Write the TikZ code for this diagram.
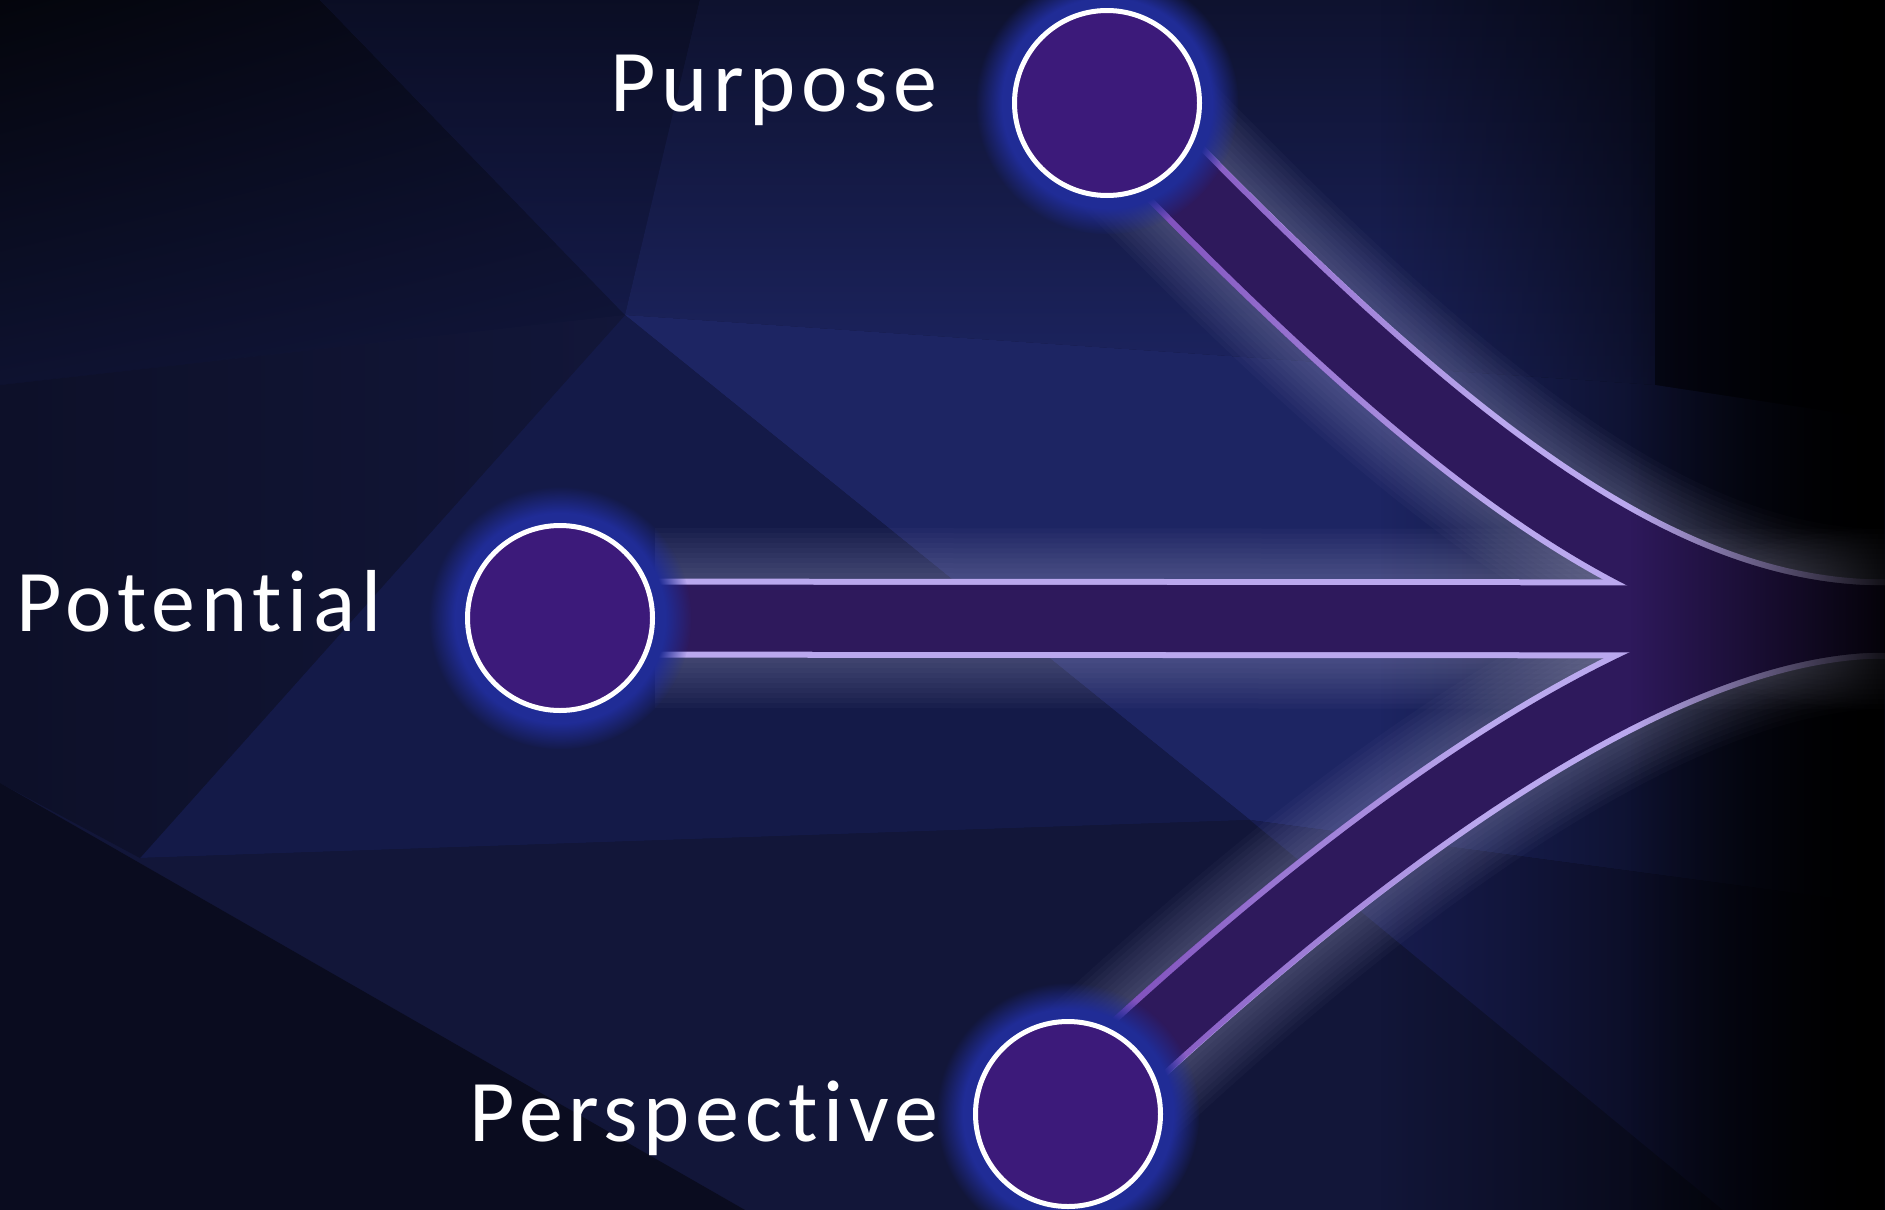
\documentclass[tikz,border=0pt]{standalone}
\usepackage{fontspec}
\setmainfont{Carlito}
\newfontfamily\lblfont{Carlito}[LetterSpace=6.5, Ligatures={NoCommon, NoRare}]
\usetikzlibrary{fadings, shadows, shadings}

\definecolor{bandfill}{RGB}{46,25,92}
\definecolor{bandline}{RGB}{186,168,238}
\definecolor{linepurple}{RGB}{112,56,176}
\definecolor{dotfill}{RGB}{60,26,122}
\definecolor{dotglow}{RGB}{32,44,150}
\definecolor{haze}{RGB}{176,176,214}
\definecolor{bgE}{RGB}{29,37,99}
\definecolor{bgF}{RGB}{20,26,72}
\definecolor{bgH}{RGB}{18,22,57}
\definecolor{bgI}{RGB}{8,10,24}
\definecolor{bgJ}{RGB}{24,29,80}
\definecolor{bgD}{RGB}{13,16,48}
\definecolor{bgK}{RGB}{4,5,12}

\tikzfading[name=linefade, left color=transparent!0, right color=transparent!100, middle color=transparent!100]
\tikzfading[name=darkright, left color=transparent!100, right color=transparent!0]

\pgfdeclarelayer{back}
\pgfdeclarelayer{bands}
\pgfdeclarelayer{front}
\pgfsetlayers{back,bands,main,front}

\begin{document}
\begin{tikzpicture}[x=1pt, y=-1pt]
    \tikzstyle{station}=[circle, draw=white, line width=5pt, fill=dotfill, minimum size=185pt, inner sep=0pt,
        circular glow={fill=dotglow, shadow scale=1.42, path fading={circle with fuzzy edge 20 percent}}]
    \tikzstyle{lbl}=[text=white, inner sep=0pt, font=\lblfont\fontsize{88}{100}\selectfont]
    \tikzstyle{bandrim}=[line width=79pt, draw=bandline]
    \tikzstyle{bandcore}=[line width=67pt, draw=bandfill]

    \useasboundingbox (0,0) rectangle (1885,1210);

    \node[station] (purpose) at (1107,103) {};
    \node[station] (potential) at (560,618) {};
    \node[station] (perspective) at (1068,1114) {};
    \coordinate (merge) at (1885,619);

    \node[lbl, anchor=base east] (purposelbl) at (938,111) {Purpose};
    \node[lbl, anchor=base west] (potentiallbl) at (16,631) {Potential};
    \node[lbl, anchor=base east] (perspectivelbl) at (938,1141) {Perspective};

    \begin{pgfonlayer}{back}
        \coordinate (v1) at (625,315);
        \coordinate (v2) at (1655,385);
        \coordinate (v3) at (1250,820);
        \coordinate (v4) at (140,858);
        \fill[bgH] (0,0) rectangle (1885,1210);
        \shade[upper left=bgK, upper right=bgK!70!bgF, lower left=bgI!50!bgF, lower right=bgF!80!bgK] (0,0) -- (320,0) -- (v1) -- (0,385) -- cycle;
        \shade[top color=bgK!60!bgF, bottom color=bgF] (320,0) -- (700,0) -- (v1) -- cycle;
        \shade[top color=bgK!60!bgE, bottom color=bgE!90!bgF] (700,0) -- (1655,0) -- (v2) -- (v1) -- cycle;
        \fill[bgD] (1655,0) -- (1885,0) -- (1885,420) -- (v2) -- cycle;
        \fill[bgE] (v1) -- (v2) -- (1885,420) -- (1885,905) -- (v3) -- cycle;
        \fill[bgF] (v1) -- (v3) -- (v4) -- cycle;
        \shade[left color=bgI!50!bgH, right color=bgH] (0,385) -- (v1) -- (v4) -- (0,783) -- cycle;
        \fill[bgH] (v4) -- (v3) -- (1723,1210) -- (745,1210) -- cycle;
        \fill[bgI!80!bgH] (0,783) -- (745,1210) -- (0,1210) -- cycle;
        \fill[bgJ] (v3) -- (1885,905) -- (1885,1210) -- (1723,1210) -- cycle;
        \fill[black, path fading=darkright] (1380,0) rectangle (1885,1210);
    \end{pgfonlayer}

    \begin{pgfonlayer}{bands}
        \foreach \w in {90,100,...,180} {
            \foreach \src/\dy/\ex in {purpose/335/235, perspective/-307/210}
                \draw[haze, opacity=.035, line width=\w pt] (\src.center) .. controls +(322,\dy) and +(-\ex,0) .. (merge);
            \draw[haze, opacity=.035, line width=\w pt] (potential.east) -- (merge);
        }
        \foreach \src/\dy/\ex in {purpose/335/235, perspective/-307/210} {
            \draw[bandrim] (\src.center) .. controls +(322,\dy) and +(-\ex,0) .. (merge);
            \draw[bandrim, draw=linepurple, path fading=linefade] (\src.center) .. controls +(322,\dy) and +(-\ex,0) .. (merge);
        }
        \draw[bandrim] (potential.west) -- (merge);
        \foreach \src/\dy/\ex in {purpose/335/235, perspective/-307/210}
            \draw[bandcore] (\src.center) .. controls +(322,\dy) and +(-\ex,0) .. (merge);
        \draw[bandcore] ([xshift=6pt]potential.west) -- (merge);
    \end{pgfonlayer}

    \begin{pgfonlayer}{front}
        \fill[black, path fading=darkright, opacity=.9] (1630,0) rectangle (1885,1210);
    \end{pgfonlayer}
\end{tikzpicture}
\end{document}
